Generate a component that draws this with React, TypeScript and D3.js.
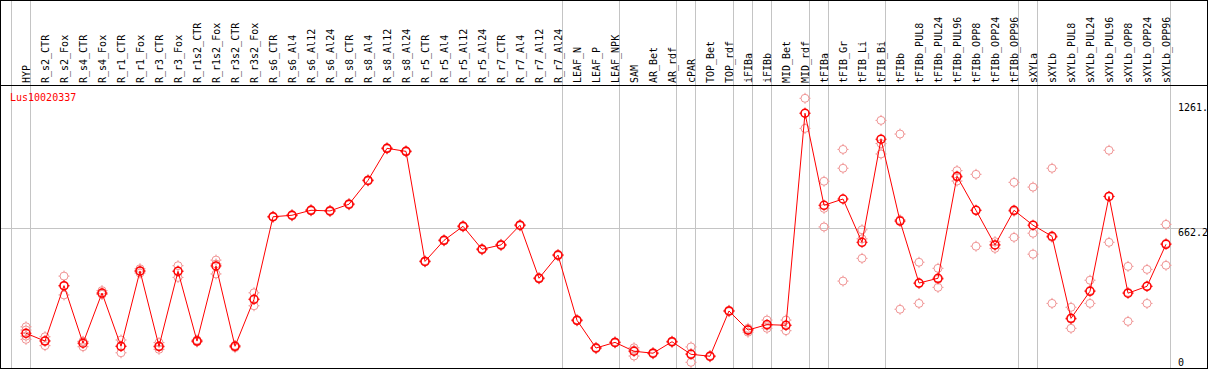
import React from "react";
import * as d3 from "d3";

const geneId = "Lus10020337";

const categories = [
  "HYP", "R_s2_CTR", "R_s2_Fox", "R_s4_CTR", "R_s4_Fox", "R_r1_CTR", "R_r1_Fox", "R_r3_CTR", "R_r3_Fox",
  "R_r1s2_CTR", "R_r1s2_Fox", "R_r3s2_CTR", "R_r3s2_Fox",
  "R_s6_CTR", "R_s6_Al4", "R_s6_Al12", "R_s6_Al24", "R_s8_CTR", "R_s8_Al4", "R_s8_Al12", "R_s8_Al24",
  "R_r5_CTR", "R_r5_Al4", "R_r5_Al12", "R_r5_Al24", "R_r7_CTR", "R_r7_Al4", "R_r7_Al12", "R_r7_Al24",
  "LEAF_N", "LEAF_P", "LEAF_NPK", "SAM", "AR_Bet", "AR_rdf", "cPAR", "TOP_Bet", "TOP_rdf",
  "iFIBa", "iFIBb", "MID_Bet", "MID_rdf", "tFIBa", "tFIB_Gr", "tFIB_Li", "tFIB_Bi",
  "tFIBb", "tFIBb_PUL8", "tFIBb_PUL24", "tFIBb_PUL96", "tFIBb_OPP8", "tFIBb_OPP24", "tFIBb_OPP96",
  "sXYLa", "sXYLb", "sXYLb_PUL8", "sXYLb_PUL24", "sXYLb_PUL96", "sXYLb_OPP8", "sXYLb_OPP24", "sXYLb_OPP96",
];

const meanValues = [
  176, 140, 396, 130, 362, 116, 464, 116, 462, 140, 487, 116, 333,
  714, 721, 744, 741, 772, 882, 1030, 1016,
  508, 605, 670, 564, 584, 675, 430, 537,
  236, 108, 134, 93, 84, 137, 79, 70, 279,
  191, 216, 213, 1192, 767, 796, 596, 1072,
  694, 408, 430, 901, 744, 584, 744,
  675, 624, 245, 370, 808, 361, 393, 587,
];

const replicateValues = [
  [206, 191, 163, 148], [160, 119, 142], [440, 353, 394], [114, 137, 139], [373, 357, 356],
  [145, 86, 116], [474, 454, 462], [133, 102, 113], [488, 434, 464], [145, 136, 140],
  [514, 450, 496], [120, 110, 118], [363, 303, 333],
  [712, 716, 714], [718, 724, 721], [741, 747, 744], [738, 744, 741], [769, 775, 772],
  [879, 885, 882], [1027, 1033, 1030], [1013, 1019, 1016],
  [505, 511, 508], [602, 608, 605], [667, 673, 670], [561, 567, 564], [581, 587, 584],
  [672, 678, 675], [427, 433, 430], [534, 540, 537],
  [233, 239, 236], [105, 111, 108], [131, 137, 134], [109, 71, 98], [81, 87, 84],
  [134, 140, 137], [113, 42, 82], [67, 73, 70], [276, 282, 279],
  [199, 181, 194], [237, 199, 211], [237, 188, 213], [1261, 1122, 1192],
  [878, 753, 667], [1025, 938, 417], [654, 522, 612], [1159, 1004, 1052],
  [1096, 287, 700], [504, 314, 406], [476, 388, 425], [927, 879, 897], [910, 578, 744],
  [599, 568, 584], [873, 619, 739],
  [851, 638, 541], [938, 314, 619], [296, 199, 241], [421, 314, 374], [1021, 596, 808],
  [485, 231, 365], [471, 314, 393], [679, 490, 591],
];

const tickValues = [1261, 662.2, 0];
const tickLabels = ["1261.", "662.2", "0"];
const refValue = 662.2;

// separators drawn after these categories ("" = before the first one)
const groupEnds = [
  "", "HYP", "R_r7_Al24", "LEAF_NPK", "AR_rdf", "cPAR", "TOP_rdf", "iFIBa", "iFIBb",
  "MID_rdf", "tFIBa", "tFIB_Bi", "tFIBb_OPP96", "sXYLa", "sXYLb_OPP96",
];

const W = 1209;
const H = 370;
const FONT = "'DejaVu Sans Mono', monospace";
const RED = "#ff0000";
const PINK = "#f09494";
const GRAY = "#c4c4c4";

function Marker({ cx, cy, color, sw }: { cx: number; cy: number; color: string; sw: number }) {
  const r = 4;
  return (
    <g stroke={color} fill="none">
      <circle cx={cx} cy={cy} r={r} strokeWidth={sw} />
      <line x1={cx} x2={cx} y1={cy - r - 1.5} y2={cy - r} strokeWidth={1} />
      <line x1={cx} x2={cx} y1={cy + r} y2={cy + r + 1.5} strokeWidth={1} />
      <line x1={cx - r - 1.5} x2={cx - r} y1={cy} y2={cy} strokeWidth={1} />
      <line x1={cx + r} x2={cx + r + 1.5} y1={cy} y2={cy} strokeWidth={1} />
    </g>
  );
}

export default function App() {
  const x = d3.scalePoint<string>().domain(categories).range([26, 1166]).padding(0);
  const step = x.step();
  const y = d3.scaleLinear().domain([0, 1261]).range([371.4, 98.3]);

  const line = d3
    .line<number>()
    .x((_, i) => x(categories[i]) as number)
    .y((d) => y(d));

  const sepX = (name: string) =>
    name === "" ? Math.round((x(categories[0]) as number) - step) + 4.5 : Math.round(x(name) as number) + 4.5;

  return (
    <svg
      width={W}
      height={H}
      style={{ position: "absolute", left: 0, top: 0, display: "block", background: "#fff" }}
    >
      <rect x={0} y={0} width={W} height={H} fill="#fff" />
      {groupEnds.map((g, i) => (
        <line key={"s" + i} x1={sepX(g)} x2={sepX(g)} y1={0} y2={368} stroke={GRAY} strokeWidth={1} />
      ))}
      <line x1={0} x2={1207} y1={Math.round(y(refValue)) + 0.5} y2={Math.round(y(refValue)) + 0.5} stroke={GRAY} strokeWidth={1} />
      <rect x={0.5} y={0.5} width={1207} height={368} fill="none" stroke="#000" strokeWidth={1} />
      <line x1={0} x2={1208} y1={85.5} y2={85.5} stroke="#000" strokeWidth={1} />

      {categories.map((c) => (
        <text
          key={"l" + c}
          transform={`translate(${(x(c) as number) + 3.5},83) rotate(-90)`}
          fontFamily={FONT}
          fontSize={10}
          fill="#000"
        >
          {c}
        </text>
      ))}

      <text x={10} y={101} fontFamily={FONT} fontSize={10} fill={RED}>
        {geneId}
      </text>

      {tickValues.map((v, i) => (
        <text
          key={"t" + i}
          x={1178}
          y={i === 0 ? 110.5 : i === 1 ? y(v) + 8 : 365.5}
          fontFamily={FONT}
          fontSize={10}
          fill="#000"
        >
          {tickLabels[i]}
        </text>
      ))}

      {replicateValues.map((reps, i) =>
        reps.map((v, j) => (
          <Marker key={`r${i}-${j}`} cx={x(categories[i]) as number} cy={y(v)} color={PINK} sw={1} />
        ))
      )}

      <path d={line(meanValues) || ""} fill="none" stroke={RED} strokeWidth={1} />

      {meanValues.map((v, i) => (
        <Marker key={"m" + i} cx={x(categories[i]) as number} cy={y(v)} color={RED} sw={1.5} />
      ))}
    </svg>
  );
}
